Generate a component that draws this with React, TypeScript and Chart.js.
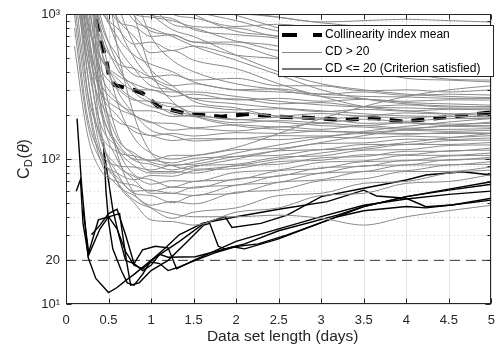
import React, { useEffect, useRef } from 'react';
import { Chart, registerables } from 'chart.js';

Chart.register(...registerables);

const FONT = '"Liberation Sans", Arial, Helvetica, sans-serif';
const AXIS_COLOR = '#262626';

const X_TICKS = [0, 0.5, 1, 1.5, 2, 2.5, 3, 3.5, 4, 4.5, 5];
const Y_LABELED = [10, 20, 100, 1000];
const Y_LABEL_TEXT: Record<number, string> = { 10: '10¹', 20: '20', 100: '10²', 1000: '10³' };
const Y_MAJOR = [10, 100, 1000];
const Y_MINOR = [20, 30, 40, 50, 60, 70, 80, 90, 200, 300, 400, 500, 600, 700, 800, 900];
const THRESHOLD = 20;

const LEGEND_LABELS = ['Collinearity index mean', 'CD > 20', 'CD <= 20 (Criterion satisfied)'];

// Mean collinearity index
const MEAN_X = [0.3, 0.337, 0.376, 0.434, 0.473, 0.51, 0.57, 0.8, 0.9, 1.09, 1.44, 1.83, 2.14, 2.49, 2.87, 3.26, 3.61, 3.96, 4.31, 4.73, 5];
const MEAN_Y = [1300, 985, 797, 580, 482, 360, 324, 299, 284, 229, 204, 196, 204, 196, 192, 186, 192, 181, 190, 201, 210];

// Parameter subsets with CD > 20 (common x grid)
const GRAY_X = [0.1, 0.25, 0.4, 0.6, 0.8, 1, 1.25, 1.5, 2, 2.5, 3, 3.5, 4, 4.5, 5];
const GRAY_Y = [
  [3000, 3000, 3000, 2500, 1800, 1300, 1100, 1000, 1000, 950, 880, 900, 920, 900, 880],
  [3000, 3000, 3000, 3000, 2200, 1400, 1000, 940, 820, 850, 790, 740, 760, 720, 750],
  [3000, 3000, 2200, 1300, 1000, 950, 900, 820, 800, 700, 690, 640, 660, 620, 630],
  [3000, 3000, 3000, 1800, 1150, 980, 930, 780, 720, 680, 580, 590, 560, 575, 560],
  [3000, 3000, 1600, 900, 820, 700, 720, 640, 640, 560, 550, 500, 500, 470, 470],
  [3000, 3000, 3000, 3000, 3000, 2000, 1250, 1000, 760, 700, 560, 540, 470, 460, 430],
  [3000, 2400, 1100, 800, 620, 640, 560, 600, 520, 490, 430, 430, 400, 410, 400],
  [3000, 3000, 3000, 1500, 980, 760, 720, 640, 610, 500, 460, 400, 390, 355, 350],
  [3000, 3000, 1900, 950, 700, 540, 560, 480, 420, 330, 270, 230, 215, 205, 200],
  [3000, 3000, 3000, 3000, 1700, 1150, 850, 800, 650, 600, 470, 420, 360, 350, 340],
  [3000, 1500, 700, 460, 420, 370, 380, 350, 360, 320, 320, 295, 300, 290, 300],
  [3000, 2600, 900, 520, 380, 360, 320, 330, 300, 305, 280, 290, 275, 280, 276],
  [3000, 1200, 520, 360, 300, 300, 270, 280, 255, 262, 250, 258, 250, 256, 255],
  [3000, 3000, 1400, 620, 420, 320, 300, 262, 260, 240, 245, 230, 236, 228, 230],
  [2500, 900, 430, 310, 255, 250, 228, 232, 218, 222, 212, 220, 214, 220, 218],
  [3000, 2000, 820, 420, 320, 255, 240, 210, 210, 198, 206, 198, 208, 204, 210],
  [3000, 700, 340, 245, 215, 215, 196, 200, 186, 194, 188, 196, 192, 198, 195],
  [3000, 3000, 1000, 460, 290, 245, 205, 196, 178, 184, 178, 188, 182, 190, 190],
  [2000, 600, 300, 225, 200, 178, 176, 164, 172, 166, 176, 170, 178, 174, 176],
  [3000, 1000, 400, 255, 200, 180, 158, 162, 156, 167, 160, 170, 163, 168, 166],
  [3000, 3000, 3000, 1200, 620, 410, 320, 250, 225, 196, 192, 176, 178, 170, 170],
  [1500, 500, 250, 182, 165, 145, 150, 144, 152, 150, 156, 153, 158, 155, 158],
  [3000, 800, 300, 200, 155, 145, 134, 138, 138, 145, 144, 150, 148, 152, 151],
  [3000, 3000, 620, 300, 205, 158, 145, 133, 138, 136, 142, 139, 144, 141, 145],
  [1500, 300, 150, 112, 105, 98, 106, 106, 116, 118, 128, 129, 137, 136, 140],
  [3000, 500, 180, 122, 100, 98, 94, 101, 104, 114, 116, 126, 126, 134, 135],
  [1000, 200, 112, 90, 88, 84, 91, 92, 104, 106, 116, 117, 126, 126, 130],
  [3000, 700, 220, 130, 98, 92, 84, 90, 92, 103, 105, 115, 116, 124, 125],
  [3000, 3000, 500, 150, 105, 82, 82, 80, 90, 92, 102, 104, 113, 113, 119],
  [800, 180, 100, 80, 72, 77, 76, 83, 86, 96, 98, 107, 107, 114, 115],
  [3000, 400, 140, 90, 76, 67, 71, 70, 81, 84, 95, 97, 106, 106, 110],
  [3000, 1500, 300, 120, 78, 72, 64, 70, 72, 83, 86, 96, 97, 105, 106],
  [600, 150, 85, 70, 66, 60, 64, 63, 73, 76, 87, 89, 98, 98, 103],
  [3000, 300, 110, 75, 60, 61, 58, 64, 66, 77, 80, 90, 91, 99, 100],
  [3000, 3000, 250, 100, 72, 58, 58, 56, 66, 69, 80, 82, 91, 91, 96],
  [3000, 600, 150, 80, 58, 56, 50, 56, 58, 69, 72, 82, 83, 91, 92],
  [1200, 250, 100, 66, 56, 48, 51, 49, 59, 61, 71, 73, 82, 82, 88],
  [3000, 3000, 400, 110, 58, 46, 39, 43, 46, 56, 58, 68, 70, 80, 84],
  [3000, 900, 170, 70, 50, 38, 37, 35, 43, 46, 56, 58, 68, 70, 78],
  [3000, 400, 120, 70, 52, 46, 42, 40, 40, 41, 39, 35, 40, 44, 48],
  [3000, 3000, 3000, 3000, 3000, 3000, 3000, 1800, 1100, 950, 870, 820, 800, 790, 790],
  [3000, 3000, 3000, 3000, 2600, 1600, 1200, 1050, 900, 760, 700, 690, 680, 700, 700],
  [3000, 3000, 3000, 2000, 1300, 1000, 780, 700, 520, 400, 330, 300, 280, 270, 265],
  [3000, 3000, 3000, 3000, 3000, 2400, 1700, 1250, 980, 800, 640, 560, 520, 510, 520],
  [3000, 3000, 2600, 1400, 900, 800, 700, 600, 480, 380, 300, 260, 240, 232, 228],
  [3000, 3000, 3000, 3000, 1400, 700, 480, 400, 330, 300, 270, 260, 245, 240, 235],
  [3000, 3000, 1200, 700, 520, 450, 400, 340, 300, 290, 280, 270, 268, 262, 262],
  [3000, 900, 500, 380, 330, 300, 290, 290, 270, 250, 236, 228, 225, 222, 222],
  [3000, 3000, 3000, 900, 500, 360, 300, 260, 240, 225, 215, 205, 198, 196, 195],
  [3000, 1800, 600, 330, 260, 230, 215, 200, 188, 180, 170, 166, 160, 160, 162],
  [3000, 3000, 3000, 600, 200, 110, 90, 85, 90, 100, 110, 120, 130, 140, 150],
  [3000, 2000, 350, 140, 110, 95, 90, 95, 110, 125, 140, 155, 168, 180, 190],
  [3000, 3000, 800, 250, 140, 110, 100, 105, 120, 150, 190, 230, 270, 300, 320],
  [3000, 1200, 250, 120, 90, 80, 80, 88, 100, 115, 130, 145, 160, 170, 180],
  [3000, 3000, 3000, 3000, 1000, 400, 250, 200, 170, 160, 155, 152, 150, 150, 150],
];

// Parameter subsets with CD <= 20 (criterion satisfied)
const BLACK_X = [
  [0.13, 0.18, 0.26, 0.35, 0.5, 0.6, 0.7, 0.8, 1.0, 1.33, 1.62, 1.87, 1.95, 2.29, 2.6, 3.0, 3.5, 4.0, 4.23, 4.66, 5],
  [0.12, 0.17, 0.2, 0.26, 0.38, 0.51, 0.63, 0.71, 0.76, 0.86, 1.0, 1.2, 1.4, 1.62, 1.69, 1.79, 1.87, 2.1, 2.5, 3.19, 3.5, 4.0, 4.5, 5],
  [0.44, 0.47, 0.5, 0.55, 0.65, 0.72, 0.8, 0.9, 1.0, 1.17, 1.33, 1.6, 2.0, 2.5, 3.07, 3.5, 3.65, 4.0, 4.23, 4.54, 5],
  [0.2, 0.27, 0.4, 0.5, 0.6, 0.7, 0.8, 0.9, 1.0, 1.1, 1.2, 1.33, 1.52, 1.75, 1.98, 2.1, 2.49, 3.19, 3.5, 4.0, 4.5, 5],
  [0.3, 0.4, 0.5, 0.6, 0.7, 0.8, 0.9, 1.0, 1.1, 1.2, 1.52, 1.97, 2.26, 2.6, 3.19, 3.5, 4.0, 4.23, 4.5, 5],
  [0.45, 0.55, 0.62, 0.7, 0.8, 0.9, 1.05, 1.2, 1.3, 1.5, 2, 2.5, 3, 3.5, 4, 4.5, 5],
];
const BLACK_Y = [
  [190, 70, 21, 15, 12, 13, 14.5, 16, 20, 26.9, 36, 40, 33.7, 36, 41, 55, 62.8, 71.7, 77.5, 81.7, 77.5],
  [60, 72, 36, 22, 38, 40, 42, 20, 13.5, 14, 17, 20, 26, 35, 36, 25, 24, 26, 32, 41, 47, 55, 62, 69.7],
  [130, 60, 37, 24, 17, 14, 13.5, 16, 20, 24.4, 30, 36, 40, 45, 50.8, 61, 55.6, 53.6, 46.9, 48.2, 53.6],
  [45, 22, 33, 40, 33, 23, 18.5, 17.5, 19.5, 19, 17, 18, 20, 22.5, 24.7, 24, 28, 40, 46.9, 55, 61, 67],
  [30, 35, 42, 45, 30, 19, 17, 18.5, 22, 21, 21.2, 24.8, 26, 30, 40, 44, 47, 46, 48, 52],
  [110, 45, 30, 20, 19, 23.6, 25, 24.4, 17.5, 20, 27, 33, 40, 48, 53, 57, 60],
];

const pts = (xs: number[], ys: number[]) => xs.map((x, i) => ({ x, y: ys[i] }));

const matlabPlugin = {
  id: 'matlabAxes',
  beforeDatasetsDraw(chart: any) {
    const { ctx, chartArea: a, scales } = chart;
    const x = scales.x, y = scales.y;
    ctx.save();
    ctx.lineWidth = 1;
    ctx.strokeStyle = '#e3e3e3';
    for (const t of X_TICKS) {
      const px = Math.round(x.getPixelForValue(t)) + 0.5;
      ctx.beginPath(); ctx.moveTo(px, a.top); ctx.lineTo(px, a.bottom); ctx.stroke();
    }
    for (const v of Y_MAJOR) {
      const py = Math.round(y.getPixelForValue(v)) + 0.5;
      ctx.beginPath(); ctx.moveTo(a.left, py); ctx.lineTo(a.right, py); ctx.stroke();
    }
    ctx.strokeStyle = '#cccccc';
    ctx.setLineDash([1, 3]);
    for (const v of Y_MINOR) {
      const py = Math.round(y.getPixelForValue(v)) + 0.5;
      ctx.beginPath(); ctx.moveTo(a.left, py); ctx.lineTo(a.right, py); ctx.stroke();
    }
    ctx.restore();
  },
  afterDatasetsDraw(chart: any) {
    const { ctx, chartArea: a, scales } = chart;
    const x = scales.x, y = scales.y;
    ctx.save();
    ctx.strokeStyle = AXIS_COLOR;
    ctx.lineWidth = 1;
    const L = Math.round(a.left) + 0.5, R = Math.round(a.right) - 0.5;
    const T = Math.round(a.top) + 0.5, B = Math.round(a.bottom) - 0.5;
    ctx.strokeRect(L, T, R - L, B - T);
    ctx.beginPath();
    for (const t of X_TICKS) {
      const px = Math.round(x.getPixelForValue(t)) + 0.5;
      ctx.moveTo(px, B); ctx.lineTo(px, B - 5);
      ctx.moveTo(px, T); ctx.lineTo(px, T + 5);
    }
    for (const v of Y_MAJOR) {
      const py = Math.round(y.getPixelForValue(v)) + 0.5;
      ctx.moveTo(L, py); ctx.lineTo(L + 5, py);
      ctx.moveTo(R, py); ctx.lineTo(R - 5, py);
    }
    for (const v of Y_MINOR) {
      const py = Math.round(y.getPixelForValue(v)) + 0.5;
      ctx.moveTo(L, py); ctx.lineTo(L + 3, py);
      ctx.moveTo(R, py); ctx.lineTo(R - 3, py);
    }
    ctx.stroke();
    ctx.restore();
  },
  afterDraw(chart: any) {
    const { ctx, chartArea: a } = chart;
    ctx.save();
    // x title
    ctx.fillStyle = AXIS_COLOR;
    ctx.font = `15.5px ${FONT}`;
    ctx.textAlign = 'center';
    ctx.textBaseline = 'middle';
    ctx.fillText('Data set length (days)', (a.left + a.right) / 2 + 4, 337);

    // y title: C_D(θ)
    ctx.save();
    ctx.translate(29, (a.top + a.bottom) / 2);
    ctx.rotate(-Math.PI / 2);
    ctx.textAlign = 'left';
    ctx.textBaseline = 'alphabetic';
    ctx.fillStyle = AXIS_COLOR;
    const big = `16px ${FONT}`, small = `11px ${FONT}`, ital = `italic 16px ${FONT}`;
    ctx.font = big; const wC = ctx.measureText('C').width; const wO = ctx.measureText('(').width; const wCl = ctx.measureText(')').width;
    ctx.font = small; const wD = ctx.measureText('D').width;
    ctx.font = ital; const wT = ctx.measureText('θ').width;
    let cx = -(wC + wD + wO + wT + wCl + 1) / 2;
    ctx.font = big; ctx.fillText('C', cx, 0); cx += wC;
    ctx.font = small; ctx.fillText('D', cx, 3); cx += wD + 1;
    ctx.font = big; ctx.fillText('(', cx, 0); cx += wO;
    ctx.font = ital; ctx.fillText('θ', cx, 0); cx += wT;
    ctx.font = big; ctx.fillText(')', cx, 0);
    ctx.restore();

    // legend
    const lx = 278, ly = 25, lw = 216, lh = 52;
    ctx.fillStyle = '#ffffff';
    ctx.fillRect(lx, ly, lw, lh);
    ctx.strokeStyle = AXIS_COLOR;
    ctx.lineWidth = 1;
    ctx.strokeRect(lx + 0.5, ly + 0.5, lw - 1, lh - 1);
    const rows = [35, 52, 69];
    ctx.strokeStyle = '#000000';
    ctx.lineWidth = 4;
    ctx.setLineDash([15, 16]);
    ctx.beginPath(); ctx.moveTo(282, rows[0]); ctx.lineTo(322, rows[0]); ctx.stroke();
    ctx.setLineDash([]);
    ctx.strokeStyle = '#8a8a8a';
    ctx.lineWidth = 1;
    ctx.beginPath(); ctx.moveTo(282, rows[1] + 0.5); ctx.lineTo(322, rows[1] + 0.5); ctx.stroke();
    ctx.strokeStyle = '#4a4a4a';
    ctx.lineWidth = 1.6;
    ctx.beginPath(); ctx.moveTo(282, rows[2]); ctx.lineTo(322, rows[2]); ctx.stroke();
    ctx.fillStyle = '#000000';
    ctx.font = `12px ${FONT}`;
    ctx.textAlign = 'left';
    ctx.textBaseline = 'middle';
    LEGEND_LABELS.forEach((t, i) => ctx.fillText(t, 325, rows[i]));
    ctx.restore();
  },
};

export default function App() {
  const ref = useRef<HTMLCanvasElement | null>(null);
  useEffect(() => {
    document.body.style.margin = '0';
    const canvas = ref.current;
    if (!canvas) return;
    const datasets: any[] = [];
    GRAY_Y.forEach((ys, i) => {
      datasets.push({
        label: `gray${i}`,
        data: pts(GRAY_X, ys),
        borderColor: '#8a8a8a',
        borderWidth: 1,
        pointRadius: 0,
        cubicInterpolationMode: 'monotone',
        fill: false,
      });
    });
    BLACK_Y.forEach((ys, i) => {
      datasets.push({
        label: `black${i}`,
        data: pts(BLACK_X[i], ys),
        borderColor: '#000000',
        borderWidth: 1.4,
        pointRadius: 0,
        tension: 0,
        fill: false,
      });
    });
    datasets.push({
      label: 'threshold',
      data: [{ x: X_TICKS[0], y: THRESHOLD }, { x: X_TICKS[X_TICKS.length - 1], y: THRESHOLD }],
      borderColor: '#333333',
      borderWidth: 1,
      borderDash: [10, 6],
      pointRadius: 0,
      fill: false,
    });
    datasets.push({
      label: 'mean',
      data: pts(MEAN_X, MEAN_Y),
      borderColor: '#000000',
      borderWidth: 4,
      borderDash: [13, 9],
      pointRadius: 0,
      tension: 0,
      fill: false,
    });

    const chart = new Chart(canvas, {
      type: 'line',
      data: { datasets },
      options: {
        animation: false,
        responsive: false,
        devicePixelRatio: 1,
        layout: { padding: { top: 14, right: 8, left: 0, bottom: 0 } },
        plugins: { legend: { display: false }, tooltip: { enabled: false } },
        scales: {
          x: {
            type: 'linear',
            min: 0,
            max: 5,
            grid: { display: false, drawTicks: false },
            border: { display: false },
            afterBuildTicks: (scale: any) => { scale.ticks = X_TICKS.map((v) => ({ value: v })); },
            afterFit: (scale: any) => { scale.height = 43; },
            ticks: {
              autoSkip: false,
              maxRotation: 0,
              padding: 9,
              color: AXIS_COLOR,
              font: { family: FONT, size: 13 },
              callback: (v: any) => String(v),
            },
          },
          y: {
            type: 'logarithmic',
            min: 10,
            max: 1000,
            grid: { display: false, drawTicks: false },
            border: { display: false },
            afterBuildTicks: (scale: any) => { scale.ticks = Y_LABELED.map((v) => ({ value: v })); },
            afterFit: (scale: any) => { scale.width = 66; },
            ticks: {
              autoSkip: false,
              padding: 6,
              color: AXIS_COLOR,
              font: { family: FONT, size: 13 },
              callback: (v: any) => Y_LABEL_TEXT[Number(v)] ?? '',
            },
          },
        },
      },
      plugins: [matlabPlugin],
    });
    return () => chart.destroy();
  }, []);
  return (
    <div style={{ width: 504, height: 347 }}>
      <canvas ref={ref} width={504} height={347} style={{ display: 'block' }} />
    </div>
  );
}
